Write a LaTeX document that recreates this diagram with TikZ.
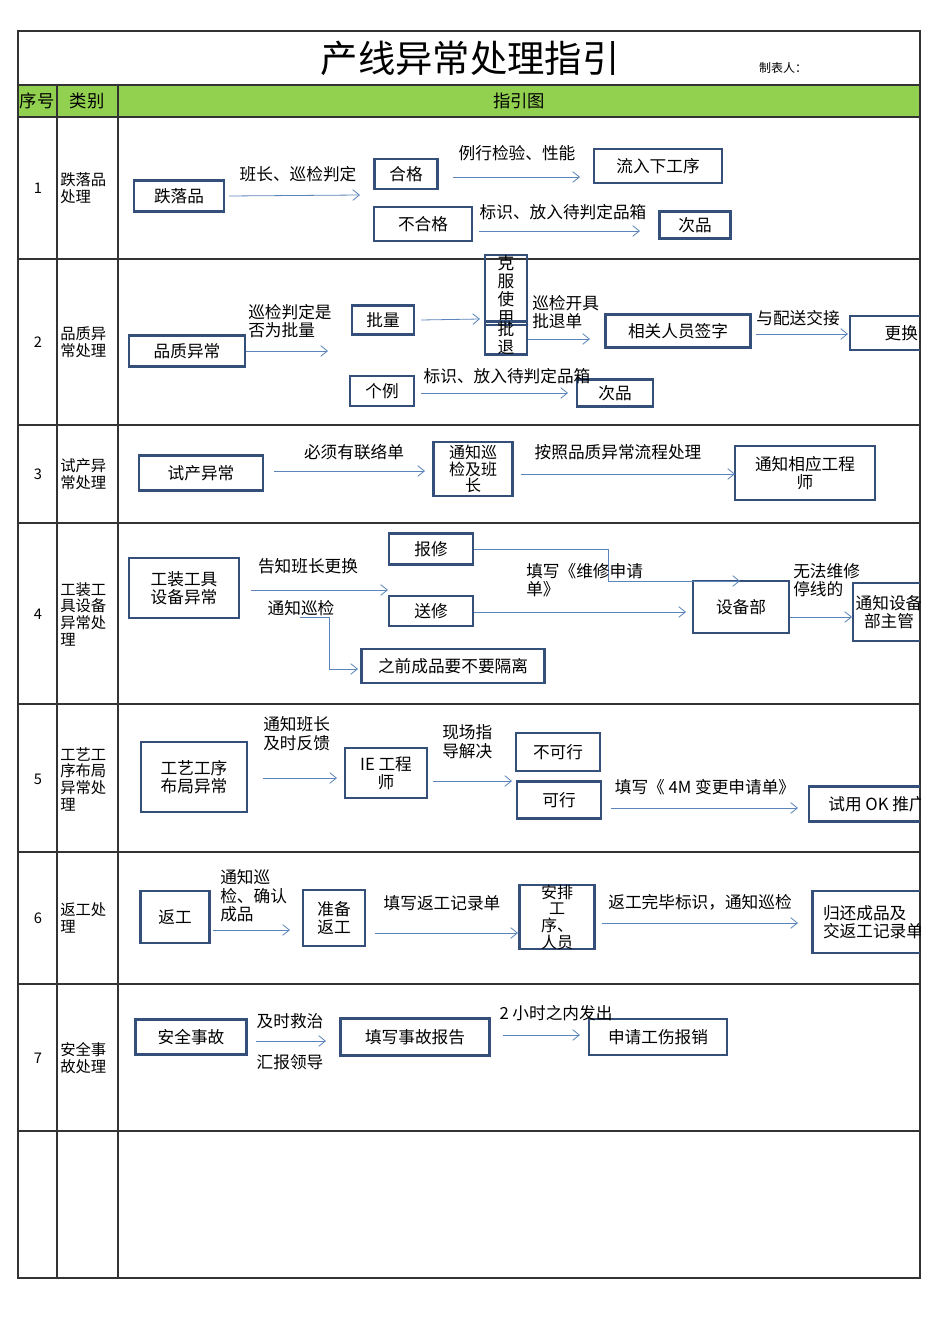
\documentclass[tikz,border=0pt]{standalone}
\usepackage{fontspec}
\setmainfont{Noto Sans CJK SC}
\usetikzlibrary{arrows.meta}
\definecolor{boxc}{HTML}{34507A}
\definecolor{arrc}{HTML}{5B84BA}
\definecolor{hdr}{HTML}{92D050}
\begin{document}
\begin{tikzpicture}[x=0.75pt,y=-0.75pt,
  box/.style={draw=boxc,line width=1.6pt,minimum width={#1*0.75pt},inner sep=1pt,font=\fontsize{12.5}{13.5}\selectfont},
  box/.default=40,
  h/.style={minimum height={#1*0.75pt}},
  flow/.style={draw=arrc,line width=0.6pt,-{Straight Barb[length=5pt,width=8pt]}},
  lbl/.style={font=\fontsize{12.5}{14}\selectfont,inner sep=0pt,align=left},
  cat/.style={font=\fontsize{11.5}{12.5}\selectfont,inner sep=0pt,align=left,anchor=west}]
\useasboundingbox (0,0) rectangle (950,1344);
% table
\fill[hdr] (18,85) rectangle (920,117);
\draw[line width=0.9pt,black!80] (18,31) rectangle (920,1278);
\foreach \y in {85,117,259,425,523,704,852,984,1131}
  \draw[line width=0.9pt,black!80] (18,\y) -- (920,\y);
\draw[line width=0.9pt,black!80] (57,85) -- (57,1278);
\draw[line width=0.9pt,black!80] (118,85) -- (118,1278);
\node (title) at (470,58) {\fontsize{28}{30}\selectfont 产线异常处理指引};
\node (maker) at (783,68) {\fontsize{9}{10}\selectfont 制表人：};
\node (hno) at (37,101) {\fontsize{13}{14}\selectfont 序号};
\node (hcat) at (87,101) {\fontsize{13}{14}\selectfont 类别};
\node (hmap) at (519,101) {\fontsize{13}{14}\selectfont 指引图};
% left column
\foreach \n/\y in {1/188,2/342,3/474,4/614,5/779,6/918,7/1058}
  \node[font=\fontsize{11}{12}\selectfont] (no\n) at (38,\y) {\n};
\node[cat] (c1) at (60,188) {跌落品\\处理};
\node[cat] (c2) at (60,342) {品质异\\常处理};
\node[cat] (c3) at (60,474) {试产异\\常处理};
\node[cat] (c4) at (60,614) {工装工\\具设备\\异常处\\理};
\node[cat] (c5) at (60,779) {工艺工\\序布局\\异常处\\理};
\node[cat] (c6) at (60,918) {返工处\\理};
\node[cat] (c7) at (60,1058) {安全事\\故处理};
\begin{scope}
\clip (118,117) rectangle (920,1131);
% row 1
\node[box=90,h=31] (drop) at (179,196) {跌落品};
\node[box=63,h=30] (ok1) at (406,174) {合格};
\node[box=128,h=34] (next) at (658,166) {流入下工序};
\node[box=98,h=34] (ng1) at (423,224) {不合格};
\node[box=71,h=27] (def1) at (695,225) {次品};
\coordinate (a1) at (360,195); \coordinate (a2) at (580,177); \coordinate (a3) at (640,231);
\draw[flow] (drop.east) ++(4,0) -- (a1);
\draw[flow] (ok1.east) ++(14,3) -- (a2);
\draw[flow] (ng1.east) ++(6,7) -- (a3);
\node[lbl] (l11) at (298,174) {班长、巡检判定};
\node[lbl] (l12) at (517,153) {例行检验、性能};
\node[lbl] (l13) at (563,212) {标识、放入待判定品箱};
% row 2
\node[box=116,h=31] (qual) at (187,351) {品质异常};
\node[box=62,h=29] (batch) at (383,320) {批量};
\node[box=42,h=50,text width=14,align=center,inner sep=0pt] (over) at (506,290) {克\\服\\使\\用};
\node[box=42,h=31,text width=14,align=center,inner sep=0pt] (ret) at (506,338) {批\\退};
\node[box=145,h=33] (sign) at (678,331) {相关人员签字};
\node[box=76,h=34] (swap) at (888,333) {\hspace*{20pt}更换};
\node[box=64,h=30] (single) at (382,391) {个例};
\node[box=76,h=27] (def2) at (615,393) {次品};
\coordinate (b1) at (328,351); \coordinate (b2) at (480,319); \coordinate (b3) at (590,339);
\coordinate (b4) at (848,334); \coordinate (b5) at (568,393);
\draw[flow] (qual.east) -- (b1);
\draw[flow] (batch.east) ++(6,0) -- (b2);
\draw[flow] (ret.east) ++(0,1) -- (b3);
\draw[flow] (sign.east) ++(4,3) -- (b4);
\draw[flow] (single.east) ++(6,2) -- (b5);
\node[lbl,anchor=west] (l21) at (248,321) {巡检判定是\\否为批量};
\node[lbl,anchor=west] (l22) at (532,312) {巡检开具\\批退单};
\node[lbl] (l23) at (798,318) {与配送交接};
\node[lbl] (l24) at (507,376) {标识、放入待判定品箱};
% row 3
\node[box=124,h=35] (trial) at (201,473) {试产异常};
\node[box=79,h=54,text width=48,align=center,inner sep=0pt,font=\fontsize{12}{12.5}\selectfont] (notice) at (473,469) {通知巡\\检及班\\长};
\node[box=140,h=54,text width=96,align=center] (eng) at (805,473) {通知相应工程\\师};
\coordinate (d1) at (425,471); \coordinate (d2) at (735,474);
\draw[flow] (trial.east) ++(10,-2) -- (d1);
\draw[flow] (notice.east) ++(7,5) -- (d2);
\node[lbl] (l31) at (354,452) {必须有联络单};
\node[lbl] (l32) at (618,452) {按照品质异常流程处理};
% row 4
\node[box=110,h=60,align=center] (tool) at (184,588) {工装工具\\设备异常};
\node[box=84,h=31] (rep) at (431,549) {报修};
\node[box=84,h=30] (send) at (431,611) {送修};
\node[box=96,h=52] (dept) at (741,607) {设备部};
\node[box=72,h=58,align=center] (mgr) at (889,612) {通知设备\\部主管};
\node[box=183,h=34] (iso) at (453,666) {之前成品要不要隔离};
\coordinate (e1) at (388,590); \coordinate (e2) at (740,581); \coordinate (e3) at (686,612);
\coordinate (e4) at (852,617); \coordinate (e5) at (358,669); \coordinate (e6) at (300,617);
\draw[flow] (tool.east) ++(11,2) -- (e1);
\draw[flow] (rep.east) -- (608,549) -- (608,581) -- (e2);
\draw[flow] (send.east) ++(0,1) -- (e3);
\draw[flow] (dept.east) ++(0,10) -- (e4);
\draw[flow] (e6) -- (329,617) -- (329,669) -- (e5);
\node[lbl] (l41) at (308,566) {告知班长更换};
\node[lbl] (l42) at (301,608) {通知巡检};
\node[lbl,anchor=west] (l43) at (526,580) {填写《维修申请\\单》};
\node[lbl,anchor=west] (l44) at (793,580) {无法维修\\停线的};
% row 5
\node[box=106,h=70,align=center] (lay) at (194,777) {工艺工序\\布局异常};
\node[box=82,h=50,align=center] (ie) at (386,773) {IE 工程\\师};
\node[box=84,h=38] (nogo) at (558,752) {不可行};
\node[box=84,h=37] (go) at (559,800) {可行};
\node[box=120,h=35] (trialok) at (869,804) {\hspace*{12pt}试用 OK 推广};
\coordinate (f1) at (337,778); \coordinate (f2) at (512,781); \coordinate (f3) at (798,808);
\draw[flow] (lay.east) ++(15,1) -- (f1);
\draw[flow] (ie.east) ++(5,8) -- (f2);
\draw[flow] (go.east) ++(9,8) -- (f3);
\node[lbl,anchor=west] (l51) at (263,734) {通知班长\\及时反馈};
\node[lbl,anchor=west] (l52) at (442,742) {现场指\\导解决};
\node[lbl] (l53) at (705,787) {填写《 4M 变更申请单》};
% row 6
\node[box=69,h=52] (rew) at (175,917) {返工};
\node[box=62,h=56,align=center] (prep) at (334,918) {准备\\返工};
\node[box=75,h=63,text width=30,align=center,inner sep=0pt,font=\fontsize{12}{12.5}\selectfont] (arr) at (557,917) {安排\\工\\序、\\人员};
\node[box=113,h=62,align=left] (back) at (869,922) {\hspace*{6pt}归还成品及\\\hspace*{6pt}交返工记录单};
\coordinate (g1) at (290,930); \coordinate (g2) at (518,933); \coordinate (g3) at (798,923);
\draw[flow] (rew.east) ++(2,13) -- (g1);
\draw[flow] (prep.east) ++(9,15) -- (g2);
\draw[flow] (arr.east) ++(6,6) -- (g3);
\node[lbl,anchor=west] (l61) at (220,896) {通知巡\\检、确认\\成品};
\node[lbl] (l62) at (442,903) {填写返工记录单};
\node[lbl] (l63) at (700,902) {返工完毕标识，通知巡检};
% row 7
\node[box=111,h=35] (acc) at (191,1037) {安全事故};
\node[box=149,h=37] (rpt) at (415,1037) {填写事故报告};
\node[box=138,h=36] (claim) at (658,1037) {申请工伤报销};
\coordinate (h1) at (326,1041); \coordinate (h2) at (580,1035);
\draw[flow] (acc.east) ++(8,4) -- (h1);
\draw[flow] (rpt.east) ++(12,-2) -- (h2);
\node[lbl] (l71) at (290,1021) {及时救治};
\node[lbl] (l72) at (290,1062) {汇报领导};
\node[lbl] (l73) at (556,1013) {2 小时之内发出};
\end{scope}
\end{tikzpicture}
\end{document}
